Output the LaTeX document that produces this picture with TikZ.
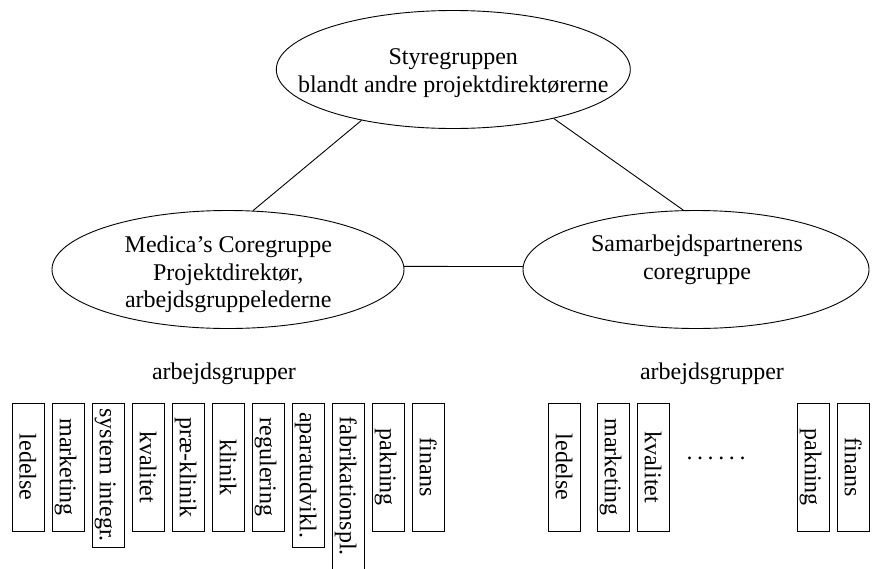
\documentclass[tikz,border=0pt]{standalone}
\usepackage{fontspec}
\setmainfont{Liberation Serif}
\usetikzlibrary{shapes.geometric}
\begin{document}
\begin{tikzpicture}[x=1pt,y=-1pt,line width=0.9pt,
  grp/.style={draw, ellipse, minimum height=118pt, inner sep=0pt},
  txt/.style={font=\fontsize{24}{27.5}\selectfont, align=center, inner sep=0pt},
  wg/.style={draw, rotate=-90, anchor=south west, minimum width=128pt, minimum height=32pt,
             inner sep=0pt, text height=23pt, text depth=5pt, font=\fontsize{24}{27.5}\selectfont},
]
\useasboundingbox (0,0) rectangle (872,568);
\clip (0,0) rectangle (872,568);

% ellipses
\node[grp, minimum width=354pt] (top) at (453.3,69.5) {};
\node[grp, minimum width=352pt] (left) at (228,269.5) {};
\node[grp, minimum width=346pt] (right) at (696,269.5) {};

% ellipse texts
\node[txt, anchor=north] (toptext) at (453.3,48.5) {Styregruppen\\blandt andre projektdirektørerne};
\node[txt, anchor=north] (lefttext) at (228.3,235.6) {Medica’s Coregruppe\\Projektdirektør,\\arbejdsgruppelederne};
\node[txt, anchor=north] (righttext) at (697,234.6) {Samarbejdspartnerens\\coregruppe};

% connectors
\draw (top.209) -- (left.67);
\draw (top.334) -- (right.102);
\draw (left.1) -- (right.179);

% labels
\node[txt, anchor=base] (lblA) at (224,379) {arbejdsgrupper};
\node[txt, anchor=base] (lblB) at (712,379) {arbejdsgrupper};

% left working groups
\node[wg] (a1)  at (12.3,402.7)  {ledelse};
\node[wg] (a2)  at (52.3,402.7)  {marketing};
\node[wg, minimum width=144pt] (a3)  at (92.3,402.7)  {system integr.};
\node[wg] (a4)  at (132.3,402.7) {kvalitet};
\node[wg] (a5)  at (172.3,402.7) {præ-klinik};
\node[wg] (a6)  at (212.3,402.7) {klinik};
\node[wg] (a7)  at (252.3,402.7) {regulering};
\node[wg, minimum width=144pt] (a8)  at (292.3,402.7) {aparatudvikl.};
\node[wg, minimum width=166pt] (a9)  at (332.3,402.7) {fabrikationspl.};
\node[wg] (a10) at (372.3,402.7) {pakning};
\node[wg] (a11) at (412.3,402.7) {finans};

% right working groups
\node[wg] (b1) at (548.3,402.7) {ledelse};
\node[wg] (b2) at (597.3,402.7) {marketing};
\node[wg] (b3) at (637.3,402.7) {kvalitet};
\node[txt, anchor=base] (dots) at (716,459) {.\kern4.6pt.\kern4.6pt.\kern4.6pt.\kern4.6pt.\kern4.6pt.};
\node[wg] (b4) at (797.3,402.7) {pakning};
\node[wg] (b5) at (837.3,402.7) {finans};
\end{tikzpicture}
\end{document}
